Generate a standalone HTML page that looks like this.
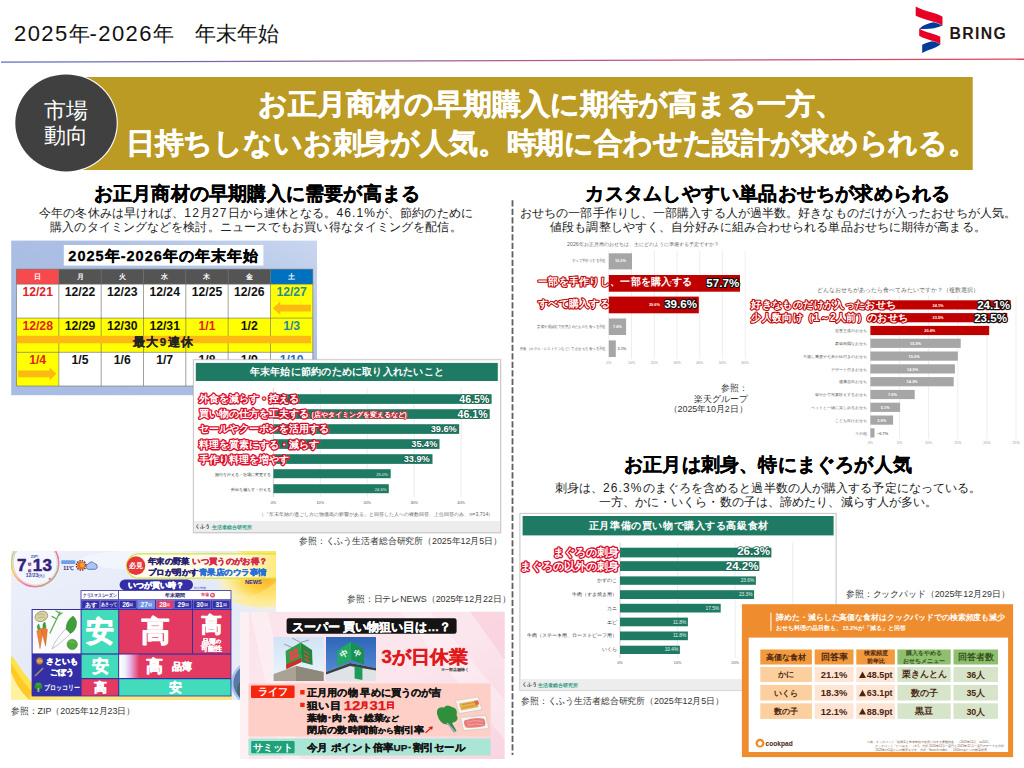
<!DOCTYPE html>
<html lang="ja">
<head>
<meta charset="utf-8">
<title>2025年-2026年 年末年始</title>
<style>
html,body{margin:0;padding:0;background:#fff;}
body{width:1024px;height:768px;overflow:hidden;position:relative;font-family:"Liberation Sans",sans-serif;color:#111;}
#page{position:absolute;left:0;top:0;width:1024px;height:768px;overflow:hidden;background:#fff;}
.t{position:absolute;white-space:nowrap;line-height:1;margin:0;padding:0;}
.n1{font-size:22px;letter-spacing:1.4px;}
.c{text-align:center;}
.r{text-align:right;}
.b{font-weight:bold;}
.h2{font-size:19.2px;letter-spacing:0.22px;font-weight:bold;color:#000;text-align:center;-webkit-text-stroke:0.3px #000;}
.sub{font-size:12px;letter-spacing:0.1px;color:#222;text-align:center;line-height:14px;}
.cap{font-size:9px;color:#333;transform:scaleX(0.985);transform-origin:0 50%;}
.cap.r{transform-origin:100% 50%;}
.d{letter-spacing:1.1px;}
svg{position:absolute;left:0;top:0;overflow:hidden;}
svg text{font-family:"Liberation Sans",sans-serif;dominant-baseline:central;}
.m{text-anchor:middle;}
.e{text-anchor:end;}
.ol{paint-order:stroke fill;stroke-linejoin:round;stroke-linecap:round;font-weight:bold;}
</style>
</head>
<body>
<div id="page">

<!-- ===== header ===== -->
<div class="t" style="left:14px;top:23px;font-size:21px;color:#111;"><span class="n1">2025</span>年<span class="n1">-2026</span>年　年末年始</div>
<svg width="1024" height="768" viewBox="0 0 1024 768">
  <defs>
    <linearGradient id="hl" x1="0" y1="0" x2="1" y2="0">
      <stop offset="0" stop-color="#5a6fc0"/>
      <stop offset="0.5" stop-color="#b05a9a"/>
      <stop offset="1" stop-color="#e8405a"/>
    </linearGradient>
  </defs>
  <path d="M1 61.4 L1024 58.4 L1024 59.8 L1 62.8 Z" fill="url(#hl)"/>
  <g id="logo">
    <path d="M915.7 6.6 C925 12 936 12.5 942.5 16.8 L942.5 25.6 C936 21 925 20.5 915.7 15.8 Z" fill="#e60027"/>
    <path d="M933.5 22.2 C937 23 940.5 24.2 942.5 25.6 C936 29 926 29.5 919.4 28.8 C922 25.5 928 23.2 933.5 22.2 Z" fill="#003a9b"/>
    <path d="M919.2 28.5 C926 33 935 33.5 940.3 36.8 L940.3 44.4 C935 40.6 926 40 919.2 35.8 Z" fill="#e60027"/>
    <path d="M932 41.3 C935.5 42 938.5 43 940.3 44.4 C935 48.5 927 50 922.2 52.9 L922.2 44.8 C925 43.4 928.5 42.2 932 41.3 Z" fill="#003a9b"/>
  </g>
</svg>
<div class="t b" style="left:949.6px;top:25.8px;font-size:15.8px;letter-spacing:1.3px;color:#231815;">BRING</div>

<!-- ===== banner ===== -->
<svg width="1024" height="768" viewBox="0 0 1024 768">
  <rect x="66" y="77" width="906.7" height="93" fill="#bc9b25"/>
  <ellipse cx="66" cy="122.9" rx="51.8" ry="49.6" fill="#fff"/>
  <ellipse cx="66" cy="122.9" rx="50.7" ry="48.5" fill="#404040"/>
</svg>
<div class="t c" style="left:16px;width:100px;top:98.8px;font-size:21.5px;line-height:25.6px;color:#fff;">市場<br>動向</div>
<div class="t c b" style="left:0;width:1102.6px;top:85.3px;font-size:29.2px;line-height:38.5px;color:#fff;-webkit-text-stroke:0.45px #fff;">お正月商材の早期購入に期待が高まる一方、<br><span style="letter-spacing:-0.17px">日持ちしないお刺身が人気。時期に合わせた設計が求められる。</span></div>

<!-- ===== section headings ===== -->
<div class="t h2" style="left:1px;width:512px;top:184px;">お正月商材の早期購入に需要が高まる</div>
<div class="t sub" style="left:0;width:512px;top:205.7px;">今年の冬休みは早ければ、<span class="d">12</span>月<span class="d">27</span>日から連休となる。<span class="d">46.1%</span>が、節約のために<br>購入のタイミングなどを検討。ニュースでもお買い得なタイミングを配信。</div>

<div class="t h2" style="left:512px;width:512px;top:184px;">カスタムしやすい単品おせちが求められる</div>
<div class="t sub" style="left:512px;width:512px;top:205.7px;">おせちの一部手作りし、一部購入する人が過半数。好きなものだけが入ったおせちが人気。<br>値段も調整しやすく、自分好みに組み合わせられる単品おせちに期待が高まる。</div>

<div class="t h2" style="left:512px;width:512px;top:455px;">お正月は刺身、特にまぐろが人気</div>
<div class="t sub" style="left:512px;width:512px;top:481px;">刺身は、<span class="d">26.3%</span>のまぐろを含めると過半数の人が購入する予定になっている。<br>一方、かに・いくら・数の子は、諦めたり、減らす人が多い。</div>

<!-- dashed divider -->
<svg width="1024" height="768" viewBox="0 0 1024 768">
  <line x1="512.5" y1="200.3" x2="512.5" y2="755" stroke="#5f5f5f" stroke-width="1.8" stroke-dasharray="6.25 2.25"/>
</svg>
<!-- ===== calendar image ===== -->
<svg width="1024" height="768" viewBox="0 0 1024 768">
<defs><linearGradient id="calbg" x1="0" y1="1" x2="1" y2="0"><stop offset="0" stop-color="#a8bbe2"/><stop offset="0.6" stop-color="#abbfe5"/><stop offset="1" stop-color="#c9d6ef"/></linearGradient></defs>
<rect x="11.2" y="240.6" width="305.8" height="154.6" fill="url(#calbg)"/>
<rect x="63.8" y="245" width="199.6" height="20.6" fill="#fff"/>
<text class="m" x="163.1" y="255.6" font-size="14.5" font-weight="bold" fill="#000" stroke="#000" stroke-width="0.3" textLength="189.6" lengthAdjust="spacing">2025年-2026年の年末年始</text>
<rect x="16.50" y="269.2" width="42.33" height="15.0" fill="#f8494c"/>
<rect x="58.83" y="269.2" width="42.33" height="15.0" fill="#545454"/>
<rect x="101.16" y="269.2" width="42.33" height="15.0" fill="#545454"/>
<rect x="143.49" y="269.2" width="42.33" height="15.0" fill="#545454"/>
<rect x="185.82" y="269.2" width="42.33" height="15.0" fill="#545454"/>
<rect x="228.15" y="269.2" width="42.33" height="15.0" fill="#545454"/>
<rect x="270.48" y="269.2" width="42.33" height="15.0" fill="#0070c0"/>
<rect x="16.50" y="284.2" width="42.33" height="33.9" fill="#ffffff"/>
<rect x="58.83" y="284.2" width="42.33" height="33.9" fill="#ffffff"/>
<rect x="101.16" y="284.2" width="42.33" height="33.9" fill="#ffffff"/>
<rect x="143.49" y="284.2" width="42.33" height="33.9" fill="#ffffff"/>
<rect x="185.82" y="284.2" width="42.33" height="33.9" fill="#ffffff"/>
<rect x="228.15" y="284.2" width="42.33" height="33.9" fill="#ffffff"/>
<rect x="270.48" y="284.2" width="42.33" height="33.9" fill="#ffff00"/>
<rect x="16.50" y="318.1" width="42.33" height="34.2" fill="#ffff00"/>
<rect x="58.83" y="318.1" width="42.33" height="34.2" fill="#ffff00"/>
<rect x="101.16" y="318.1" width="42.33" height="34.2" fill="#ffff00"/>
<rect x="143.49" y="318.1" width="42.33" height="34.2" fill="#ffff00"/>
<rect x="185.82" y="318.1" width="42.33" height="34.2" fill="#ffff00"/>
<rect x="228.15" y="318.1" width="42.33" height="34.2" fill="#ffff00"/>
<rect x="270.48" y="318.1" width="42.33" height="34.2" fill="#ffff00"/>
<rect x="16.50" y="352.3" width="42.33" height="33.7" fill="#ffff00"/>
<rect x="58.83" y="352.3" width="42.33" height="33.7" fill="#ffffff"/>
<rect x="101.16" y="352.3" width="42.33" height="33.7" fill="#ffffff"/>
<rect x="143.49" y="352.3" width="42.33" height="33.7" fill="#ffffff"/>
<rect x="185.82" y="352.3" width="42.33" height="33.7" fill="#ffffff"/>
<rect x="228.15" y="352.3" width="42.33" height="33.7" fill="#ffffff"/>
<rect x="270.48" y="352.3" width="42.33" height="33.7" fill="#ffffff"/>
<line x1="16.50" y1="269.2" x2="16.50" y2="386.0" stroke="#6e6e5a" stroke-width="0.6"/>
<line x1="58.83" y1="269.2" x2="58.83" y2="386.0" stroke="#6e6e5a" stroke-width="0.6"/>
<line x1="101.16" y1="269.2" x2="101.16" y2="386.0" stroke="#6e6e5a" stroke-width="0.6"/>
<line x1="143.49" y1="269.2" x2="143.49" y2="386.0" stroke="#6e6e5a" stroke-width="0.6"/>
<line x1="185.82" y1="269.2" x2="185.82" y2="386.0" stroke="#6e6e5a" stroke-width="0.6"/>
<line x1="228.15" y1="269.2" x2="228.15" y2="386.0" stroke="#6e6e5a" stroke-width="0.6"/>
<line x1="270.48" y1="269.2" x2="270.48" y2="386.0" stroke="#6e6e5a" stroke-width="0.6"/>
<line x1="312.81" y1="269.2" x2="312.81" y2="386.0" stroke="#6e6e5a" stroke-width="0.6"/>
<line x1="16.50" y1="269.2" x2="312.81" y2="269.2" stroke="#6e6e5a" stroke-width="0.6"/>
<line x1="16.50" y1="284.2" x2="312.81" y2="284.2" stroke="#6e6e5a" stroke-width="0.6"/>
<line x1="16.50" y1="318.1" x2="312.81" y2="318.1" stroke="#6e6e5a" stroke-width="0.6"/>
<line x1="16.50" y1="352.3" x2="312.81" y2="352.3" stroke="#6e6e5a" stroke-width="0.6"/>
<line x1="16.50" y1="386.0" x2="312.81" y2="386.0" stroke="#6e6e5a" stroke-width="0.6"/>
<text class="m" x="37.66" y="276" font-size="7" font-weight="bold" fill="#fff">日</text>
<text class="m" x="80.00" y="276" font-size="7" font-weight="bold" fill="#fff">月</text>
<text class="m" x="122.32" y="276" font-size="7" font-weight="bold" fill="#fff">火</text>
<text class="m" x="164.66" y="276" font-size="7" font-weight="bold" fill="#fff">水</text>
<text class="m" x="206.98" y="276" font-size="7" font-weight="bold" fill="#fff">木</text>
<text class="m" x="249.31" y="276" font-size="7" font-weight="bold" fill="#fff">金</text>
<text class="m" x="291.65" y="276" font-size="7" font-weight="bold" fill="#fff">土</text>
<rect x="16.8" y="335.8" width="294.2" height="7.5" fill="#fdb913"/>
<path d="M272.8 308.2 L280.3 301.6 L280.3 304.8 L310.9 304.8 L310.9 311.6 L280.3 311.6 L280.3 314.8 Z" fill="#fdb913"/>
<path d="M56.3 373.8 L49.5 367.2 L49.5 370.4 L18.2 370.4 L18.2 377.2 L49.5 377.2 L49.5 380.4 Z" fill="#fdb913"/>
<text class="m" x="37.66" y="292.3" font-size="12.2" font-weight="bold" fill="#e2211c">12/21</text>
<text class="m" x="80.00" y="292.3" font-size="12.2" font-weight="bold" fill="#111111">12/22</text>
<text class="m" x="122.32" y="292.3" font-size="12.2" font-weight="bold" fill="#111111">12/23</text>
<text class="m" x="164.66" y="292.3" font-size="12.2" font-weight="bold" fill="#111111">12/24</text>
<text class="m" x="206.98" y="292.3" font-size="12.2" font-weight="bold" fill="#111111">12/25</text>
<text class="m" x="249.31" y="292.3" font-size="12.2" font-weight="bold" fill="#111111">12/26</text>
<text class="m" x="291.65" y="292.3" font-size="12.2" font-weight="bold" fill="#2b8a99">12/27</text>
<text class="m" x="37.66" y="326.4" font-size="12.2" font-weight="bold" fill="#e2211c">12/28</text>
<text class="m" x="80.00" y="326.4" font-size="12.2" font-weight="bold" fill="#111111">12/29</text>
<text class="m" x="122.32" y="326.4" font-size="12.2" font-weight="bold" fill="#111111">12/30</text>
<text class="m" x="164.66" y="326.4" font-size="12.2" font-weight="bold" fill="#111111">12/31</text>
<text class="m" x="206.98" y="326.4" font-size="12.2" font-weight="bold" fill="#e2211c">1/1</text>
<text class="m" x="249.31" y="326.4" font-size="12.2" font-weight="bold" fill="#111111">1/2</text>
<text class="m" x="291.65" y="326.4" font-size="12.2" font-weight="bold" fill="#2b8a99">1/3</text>
<text class="m" x="37.66" y="360.2" font-size="12.2" font-weight="bold" fill="#e2211c">1/4</text>
<text class="m" x="80.00" y="360.2" font-size="12.2" font-weight="bold" fill="#111111">1/5</text>
<text class="m" x="122.32" y="360.2" font-size="12.2" font-weight="bold" fill="#111111">1/6</text>
<text class="m" x="164.66" y="360.2" font-size="12.2" font-weight="bold" fill="#111111">1/7</text>
<text class="m" x="206.98" y="360.2" font-size="12.2" font-weight="bold" fill="#111111">1/8</text>
<text class="m" x="249.31" y="360.2" font-size="12.2" font-weight="bold" fill="#111111">1/9</text>
<text class="m" x="291.65" y="360.2" font-size="12.2" font-weight="bold" fill="#1c6fc4">1/10</text>
<text class="m" x="163" y="342.3" font-size="11.5" font-weight="bold" fill="#222" stroke="#222" stroke-width="0.25" textLength="59.6" lengthAdjust="spacing">最大9連休</text>
</svg>
<!-- ===== chart: 年末年始に節約のために取り入れたいこと ===== -->
<svg width="1024" height="768" viewBox="0 0 1024 768">
<rect x="192.6" y="358.8" width="309" height="175" fill="#000" opacity="0.10"/>
<rect x="193.6" y="359.8" width="306.8" height="172.6" fill="#fff" stroke="#c4c4c4" stroke-width="0.8"/>
<rect x="194.2" y="521" width="305.6" height="11" fill="#ededed"/>
<rect x="195.8" y="362.9" width="302" height="18.1" fill="#1f7a63"/>
<text class="m" x="346.8" y="371.3" font-size="10.1" font-weight="bold" fill="#fff" textLength="194.2" lengthAdjust="spacing">年末年始に節約のために取り入れたいこと</text>
<line x1="320.3" y1="388" x2="320.3" y2="497" stroke="#e2e2e2" stroke-width="0.7"/>
<line x1="367.2" y1="388" x2="367.2" y2="497" stroke="#e2e2e2" stroke-width="0.7"/>
<line x1="414.2" y1="388" x2="414.2" y2="497" stroke="#e2e2e2" stroke-width="0.7"/>
<line x1="461.1" y1="388" x2="461.1" y2="497" stroke="#e2e2e2" stroke-width="0.7"/>
<line x1="273.4" y1="388" x2="273.4" y2="497" stroke="#bdbdbd" stroke-width="0.7"/>
<rect x="273.4" y="394.2" width="218.2" height="9.7" fill="#1f7a63"/>
<rect x="273.4" y="409.2" width="216.3" height="9.7" fill="#1f7a63"/>
<rect x="273.4" y="424.2" width="185.8" height="9.7" fill="#1f7a63"/>
<rect x="273.4" y="439.2" width="166.1" height="9.7" fill="#1f7a63"/>
<rect x="273.4" y="454.2" width="159.1" height="9.7" fill="#1f7a63"/>
<rect x="273.4" y="469.2" width="117.3" height="9.0" fill="#1f7a63"/>
<rect x="273.4" y="484.2" width="115.4" height="9.0" fill="#1f7a63"/>
<text class="m" x="273.4" y="503" font-size="3.8" fill="#555">0%</text>
<text class="m" x="320.3" y="503" font-size="3.8" fill="#555">10%</text>
<text class="m" x="367.2" y="503" font-size="3.8" fill="#555">20%</text>
<text class="m" x="414.2" y="503" font-size="3.8" fill="#555">30%</text>
<text class="m" x="461.1" y="503" font-size="3.8" fill="#555">40%</text>
<text class="e" x="270.6" y="474" font-size="4.3" fill="#333">旅行を控える・近場に変更する</text>
<text class="e" x="270.6" y="489" font-size="4.3" fill="#333">外出を減らす・控える</text>
<text class="e" x="388" y="474" font-size="4.2" fill="#e8f2ee">25.0%</text>
<text class="e" x="386.6" y="489" font-size="4.2" fill="#e8f2ee">24.6%</text>
<text class="e" x="493.4" y="514.4" font-size="5.2" fill="#666">（「年末年始の過ごし方に物価高の影響がある」と回答した人への複数回答、上位回答のみ、n=3,714）</text>
<text x="195.2" y="526.8" font-size="4.8" font-weight="bold" fill="#222">くふう <tspan fill="#2a9a82">生活者総合研究所</tspan></text>
<text class="e ol" x="489.4" y="398.6" font-size="10.6" fill="#fff" stroke="#17604d" stroke-width="1.6">46.5%</text>
<text class="e ol" x="487.6" y="413.6" font-size="10.6" fill="#fff" stroke="#17604d" stroke-width="1.6">46.1%</text>
<text class="e ol" x="456.8" y="428.8" font-size="9.2" fill="#fff" stroke="#17604d" stroke-width="1.6">39.6%</text>
<text class="e ol" x="437.4" y="443.8" font-size="9.2" fill="#fff" stroke="#17604d" stroke-width="1.6">35.4%</text>
<text class="e ol" x="429.8" y="458.6" font-size="9.2" fill="#fff" stroke="#17604d" stroke-width="1.6">33.9%</text>
<text class="ol" x="199.4" y="398.6" font-size="10.1" fill="#fff" stroke="#dc0a28" stroke-width="2.6">外食を減らす・控える</text>
<text class="ol" x="199.4" y="413.8" font-size="10.1" fill="#fff" stroke="#dc0a28" stroke-width="2.6">買い物の仕方を工夫する</text>
<text class="ol" x="199.4" y="428.9" font-size="10.1" fill="#fff" stroke="#dc0a28" stroke-width="2.6">セールやクーポンを活用する</text>
<text class="ol" x="199.4" y="444.0" font-size="10.1" fill="#fff" stroke="#dc0a28" stroke-width="2.6">料理を質素にする・減らす</text>
<text class="ol" x="199.4" y="459.0" font-size="10.1" fill="#fff" stroke="#dc0a28" stroke-width="2.6">手作り料理を増やす</text>
<text class="ol" x="311.4" y="414.6" font-size="6.6" fill="#fff" stroke="#e0182d" stroke-width="1.5">(店やタイミングを変えるなど)</text>
</svg>
<!-- ===== TV screenshot (ZIP) ===== -->
<svg x="0" y="0" width="1024" height="768" viewBox="0 0 1024 768">
<defs>
<clipPath id="zipc"><rect x="10.9" y="551" width="265.2" height="149"/></clipPath>
<linearGradient id="zipbg" x1="0" y1="0" x2="1" y2="1"><stop offset="0" stop-color="#eef1fb"/><stop offset="0.5" stop-color="#e4e9f7"/><stop offset="1" stop-color="#eaeefa"/></linearGradient>
<radialGradient id="zipsun" cx="0.5" cy="0.5" r="0.5"><stop offset="0" stop-color="#ffb12a"/><stop offset="0.45" stop-color="#ffd64a"/><stop offset="0.8" stop-color="#fff3a0" stop-opacity="0.7"/><stop offset="1" stop-color="#fff8c8" stop-opacity="0"/></radialGradient>
<linearGradient id="zipfade" x1="0" y1="0" x2="1" y2="0"><stop offset="0" stop-color="#ffffff"/><stop offset="0.3" stop-color="#eef0fb"/><stop offset="0.55" stop-color="#e6b4e6"/><stop offset="1" stop-color="#e23a62"/></linearGradient>
<linearGradient id="zippill" x1="0" y1="0" x2="1" y2="0"><stop offset="0" stop-color="#fffef4"/><stop offset="0.7" stop-color="#fffbe0"/><stop offset="0.95" stop-color="#ffe873"/></linearGradient>
<linearGradient id="ring" x1="0" y1="0" x2="1" y2="1"><stop offset="0" stop-color="#6fd0ee"/><stop offset="0.35" stop-color="#ffd23c"/><stop offset="0.65" stop-color="#f06fb4"/><stop offset="1" stop-color="#8fd36a"/></linearGradient>
</defs>
<g clip-path="url(#zipc)">
<rect x="10.9" y="551" width="265.2" height="149" fill="url(#zipbg)"/>
<ellipse cx="266" cy="578" rx="52" ry="34" fill="url(#zipsun)"/>
<path d="M236 551 Q262 556 276.1 572 L276.1 551 Z" fill="#ffe45a" opacity="0.8"/>
<path d="M230 600 Q258 598 276.1 582 L276.1 606 Q250 610 230 600 Z" fill="#ffe98a" opacity="0.55"/>
<ellipse cx="150" cy="560" rx="70" ry="10" fill="#f4f6fd" opacity="0.8"/>
<path d="M10.9 655 C22 668 30 690 60 700 L10.9 700 Z" fill="#ffe14a"/>
<path d="M10.9 663 C20 676 28 692 44 700 L10.9 700 Z" fill="#ffc928"/>
<path d="M10.9 672 C16 684 22 694 30 700 L10.9 700 Z" fill="#fff2a0"/>
<path d="M30 694 L232 694 L232 700 L30 700 Z" fill="#fde66a" opacity="0.85"/>
<circle cx="253" cy="683" r="22" fill="#a9c4ea"/><circle cx="253" cy="683" r="19.6" fill="#5a78a8"/><circle cx="249" cy="690" r="12" fill="#3f5a4a" opacity="0.6"/>
<circle cx="35.1" cy="563" r="23.6" fill="#f4f7ff" stroke="url(#ring)" stroke-width="1.7"/><circle cx="35.1" cy="563" r="22" fill="none" stroke="url(#ring)" stroke-width="0.6" opacity="0.7" transform="rotate(150 35.1 563)"/><circle cx="49.8" cy="578.8" r="1.1" fill="#f05fb6"/>
<text class="m" x="34.6" y="565.6" font-size="17" font-weight="bold" fill="#35207a" stroke="#35207a" stroke-width="0.5" letter-spacing="0.3">7<tspan fill="#ee5da0">:</tspan>13</text>
<text class="m" x="34.6" y="556.2" font-size="4" font-weight="bold" fill="#3a55b8">ZIP!</text>
<text class="m" x="35.2" y="575.8" font-size="4.9" font-weight="bold" fill="#3a45a8">12/23<tspan font-size="3.6">(火)</tspan></text>
<rect x="61.2" y="560.2" width="14.2" height="3.9" rx="0.8" fill="#6f9fe6"/>
<text class="m" x="68.6" y="568" font-size="5.2" font-weight="bold" fill="#2a2470">11℃</text>
<circle cx="81.2" cy="565.4" r="4.7" fill="none" stroke="#4a3a3a" stroke-width="1.5" stroke-dasharray="1.5 0.96"/><circle cx="81.2" cy="565.4" r="4" fill="#f26a1e"/><circle cx="82.2" cy="565" r="2.2" fill="#f9a23a"/>
<path d="M88.2 569.3 a2.7 2.7 0 0 1 0.2 -5.3 a3.5 3.5 0 0 1 6.2 -0.4 a2.9 2.9 0 0 1 0.5 5.7 Z" fill="#a8c8f4" stroke="#4a5ab0" stroke-width="0.8"/>
<rect x="126.6" y="553.8" width="160" height="24.4" rx="12.2" fill="url(#zippill)" stroke="#d7e23c" stroke-width="1.3"/>
<circle cx="136" cy="565.6" r="9.3" fill="#e63a3a"/>
<text class="m" x="136" y="565.8" font-size="7.4" font-weight="bold" fill="#fff">必見</text>
<text x="148" y="560.6" font-size="8.3" font-weight="bold" fill="#2a2470" stroke="#2a2470" stroke-width="0.3" textLength="119.5" lengthAdjust="spacingAndGlyphs">年末の野菜 <tspan fill="#d62a4f" stroke="#d62a4f">いつ買うのがお得？</tspan></text>
<text x="148" y="571.6" font-size="8.3" font-weight="bold" fill="#2a2470" stroke="#2a2470" stroke-width="0.3" textLength="118.5" lengthAdjust="spacingAndGlyphs">プロが明かす<tspan fill="#2a6fd6" stroke="#2a6fd6">青果店のウラ事情</tspan></text>
<text x="245" y="582.4" font-size="5.6" font-weight="bold" fill="#2a2a9c">NEWS</text>
<rect x="119.6" y="579.4" width="73.4" height="10.8" rx="5.4" fill="#342fa6"/>
<text class="m" x="156.3" y="585" font-size="8.2" font-weight="bold" fill="#fff" stroke="#fff" stroke-width="0.4" stroke-linejoin="round">いつが買い時？</text>
<text x="193.6" y="588" font-size="2.8" fill="#44c">卸売市場</text>
<rect x="80.6" y="590.2" width="150.8" height="20" fill="#342fa6"/>
<rect x="31.6" y="609" width="199.8" height="87.4" fill="#342fa6"/>
<rect x="81.4" y="591" width="36.8" height="8.3" fill="#fff"/>
<rect x="119" y="591" width="111.6" height="8.3" fill="#fff"/>
<text class="m" x="99.8" y="595.3" font-size="4.6" font-weight="bold" fill="#1d1b6e" textLength="34" lengthAdjust="spacingAndGlyphs">クリスマスシーズン</text>
<text class="m" x="175" y="595.3" font-size="5.4" font-weight="bold" fill="#1d1b6e">年末期間</text>
<text x="201" y="595.2" font-size="3.8" font-weight="bold" fill="#d8335a">市場</text><circle cx="212.5" cy="595.2" r="2.4" fill="#d8335a"/><text class="m" x="212.5" y="595.3" font-size="3.2" font-weight="bold" fill="#fff">休</text>
<rect x="81.9" y="600.3" width="17.4" height="8.4" fill="#342fa6" stroke="#9a9ae0" stroke-width="0.45"/>
<text class="m" x="90.6" y="604.6" font-size="6.2" font-weight="bold" fill="#fff">あす</text>
<rect x="100.7" y="600.3" width="17.3" height="8.4" fill="#342fa6" stroke="#9a9ae0" stroke-width="0.45"/>
<text class="m" x="109.3" y="604.6" font-size="4.6" font-weight="bold" fill="#fff" textLength="16.5" lengthAdjust="spacingAndGlyphs">あさって</text>
<rect x="119.4" y="600.3" width="16.9" height="8.4" fill="#342fa6" stroke="#9a9ae0" stroke-width="0.45"/>
<text class="m" x="127.8" y="604.6" font-size="6.6" font-weight="bold" fill="#fff">26<tspan font-size="3.6">日</tspan></text>
<rect x="137.7" y="600.3" width="17.1" height="8.4" fill="#6f92e4" stroke="#9a9ae0" stroke-width="0.45"/>
<text class="m" x="146.2" y="604.6" font-size="6.6" font-weight="bold" fill="#fff">27<tspan font-size="3.6">日</tspan></text>
<rect x="156.2" y="600.3" width="17.1" height="8.4" fill="#e23a62" stroke="#9a9ae0" stroke-width="0.45"/>
<text class="m" x="164.8" y="604.6" font-size="6.6" font-weight="bold" fill="#fff">28<tspan font-size="3.6">日</tspan></text>
<rect x="174.7" y="600.3" width="17.1" height="8.4" fill="#342fa6" stroke="#9a9ae0" stroke-width="0.45"/>
<text class="m" x="183.2" y="604.6" font-size="6.6" font-weight="bold" fill="#fff">29<tspan font-size="3.6">日</tspan></text>
<rect x="193.2" y="600.3" width="17.6" height="8.4" fill="#342fa6" stroke="#9a9ae0" stroke-width="0.45"/>
<text class="m" x="202.0" y="604.6" font-size="6.6" font-weight="bold" fill="#fff">30<tspan font-size="3.6">日</tspan></text>
<rect x="212.2" y="600.3" width="17.7" height="8.4" fill="#342fa6" stroke="#9a9ae0" stroke-width="0.45"/>
<text class="m" x="221.1" y="604.6" font-size="6.6" font-weight="bold" fill="#fff">31<tspan font-size="3.6">日</tspan></text>
<rect x="32.6" y="610" width="48" height="43.4" fill="#fbfbfd"/>
<rect x="81.6" y="610" width="36.6" height="43.4" fill="#42dcbc"/>
<rect x="119.2" y="610" width="72.8" height="43.4" fill="#e23a62"/>
<rect x="193" y="610" width="37.6" height="43.4" fill="#e23a62"/>
<rect x="81.6" y="654.6" width="36.6" height="23.4" fill="#42dcbc"/>
<rect x="119.2" y="654.6" width="111.4" height="23.4" fill="#e23a62"/>
<rect x="119.2" y="654.6" width="20" height="23.4" fill="url(#zipfade)"/>
<rect x="81.6" y="679.2" width="36.6" height="16.4" fill="#e23a62"/>
<rect x="119.2" y="679.2" width="111.4" height="16.4" fill="#42dcbc"/>
<text class="m" x="100" y="631" font-size="28" font-weight="bold" fill="#fff" stroke="#fff" stroke-width="1.0" stroke-linejoin="round">安</text>
<text class="m" x="155.6" y="631" font-size="29" font-weight="bold" fill="#fff" stroke="#fff" stroke-width="1.0" stroke-linejoin="round">高</text>
<text class="m" x="211.8" y="624.2" font-size="21" font-weight="bold" fill="#fff" stroke="#fff" stroke-width="0.7" stroke-linejoin="round">高</text>
<text class="m" x="211.8" y="641" font-size="6.6" font-weight="bold" fill="#fff" stroke="#fff" stroke-width="0.3" stroke-linejoin="round">品薄<tspan font-size="5.2">の</tspan></text>
<text class="m" x="211.8" y="648.6" font-size="6.6" font-weight="bold" fill="#fff" stroke="#fff" stroke-width="0.3" stroke-linejoin="round">可能性</text>
<text class="m" x="100" y="666.2" font-size="16.5" font-weight="bold" fill="#fff" stroke="#fff" stroke-width="0.6" stroke-linejoin="round">安</text>
<text class="m" x="154.8" y="666.2" font-size="16.5" font-weight="bold" fill="#fff" stroke="#fff" stroke-width="0.6" stroke-linejoin="round">高</text>
<text x="171.6" y="666.8" font-size="9.8" font-weight="bold" fill="#fff" stroke="#fff" stroke-width="0.5" stroke-linejoin="round">品薄</text>
<text class="m" x="100" y="687.6" font-size="12.6" font-weight="bold" fill="#fff" stroke="#fff" stroke-width="0.45" stroke-linejoin="round">高</text>
<text class="m" x="175" y="687.6" font-size="12.6" font-weight="bold" fill="#fff" stroke="#fff" stroke-width="0.45" stroke-linejoin="round">安</text>
<text x="45.6" y="661.2" font-size="8" font-weight="bold" fill="#fff" stroke="#fff" stroke-width="0.4" stroke-linejoin="round">さといも</text>
<text x="50.4" y="672.2" font-size="8" font-weight="bold" fill="#fff" stroke="#fff" stroke-width="0.4" stroke-linejoin="round">ごぼう</text>
<text x="43.6" y="687.6" font-size="6.9" font-weight="bold" fill="#fff" textLength="36" lengthAdjust="spacingAndGlyphs">ブロッコリー</text>
<ellipse cx="39.6" cy="661" rx="3.3" ry="3.6" fill="#c98f4a" stroke="#7a4c1a" stroke-width="0.5"/><line x1="36.6" y1="661" x2="42.6" y2="661" stroke="#f0d9a8" stroke-width="0.8"/>
<path d="M35.4 675.6 L42.8 668.4" stroke="#8a7a5e" stroke-width="1.8" stroke-linecap="round"/><path d="M35.4 675.6 L42.8 668.4" stroke="#cfc3a4" stroke-width="0.6" stroke-dasharray="1 1"/>
<circle cx="38.4" cy="685.6" r="3.2" fill="#3da23a"/><circle cx="36.2" cy="686.8" r="1.9" fill="#2f8f30"/><circle cx="40.6" cy="686.8" r="1.9" fill="#2f8f30"/><rect x="37.4" y="688" width="2" height="4" fill="#7cc85a"/>
<ellipse cx="41.4" cy="616.4" rx="6.6" ry="5" fill="#d8d3a0" stroke="#6f6b4a" stroke-width="0.5" transform="rotate(-22 41.4 616.4)"/><path d="M37 615 q4 -2 8 0 M38 618 q4 -2 7 0" fill="none" stroke="#8c875a" stroke-width="0.4"/>
<path d="M40 648.6 L36.8 631 Q40 628 43 631 Z" fill="#f0853a" stroke="#b0501a" stroke-width="0.4"/><path d="M45.6 646 L41 629 Q44.4 626 47.4 629.6 Z" fill="#ee7a2e" stroke="#b0501a" stroke-width="0.4"/>
<path d="M38 630 q-2 -5 1 -6 q0 3 2 5 M43 628 q-1 -5 2 -6 q1 3 1 6" fill="#3da23a" stroke="#2a7a2a" stroke-width="0.3"/>
<path d="M50 633 L60 612 M58 616 l4 -3 M56.6 619 l-4.6 -2.6 M59.6 613 l-3.6 -2" stroke="#5ab24a" stroke-width="1.3" fill="none" stroke-linecap="round"/>
<path d="M52 648.8 Q55 640 66 628.6 Q70 630 70.4 633.4 Q60 644 52 648.8 Z" fill="#fdfdfd" stroke="#8a8aa0" stroke-width="0.5"/>
<path d="M66 629 Q66 621 73 616 Q78 620 76 627 Q74 632 70.4 633.4 Z" fill="#3f9e3a" stroke="#2a6f2a" stroke-width="0.4"/>
<circle cx="72.2" cy="644.4" r="5.2" fill="#4ea83a" stroke="#2a6f2a" stroke-width="0.4"/><path d="M69 642 q3 -2 6 1" fill="none" stroke="#8fd46a" stroke-width="0.6"/>
</g></svg>
<!-- ===== TV screenshot (日テレNEWS) ===== -->
<svg width="1024" height="768" viewBox="0 0 1024 768">
<defs>
<clipPath id="pkc"><rect x="240" y="611.6" width="264.8" height="147.4"/></clipPath>
<linearGradient id="pkbg" x1="0" y1="0" x2="1" y2="1"><stop offset="0" stop-color="#fbe3ea"/><stop offset="0.5" stop-color="#fce6ed"/><stop offset="1" stop-color="#f9d5e1"/></linearGradient>
<linearGradient id="sky1" x1="0" y1="0" x2="0" y2="1"><stop offset="0" stop-color="#cfe4f6"/><stop offset="1" stop-color="#eef5fb"/></linearGradient>
<linearGradient id="sky2" x1="0" y1="0" x2="0" y2="1"><stop offset="0" stop-color="#2e66b8"/><stop offset="1" stop-color="#5d93d8"/></linearGradient>
</defs>
<g clip-path="url(#pkc)">
<rect x="240" y="611.6" width="264.8" height="147.4" fill="url(#pkbg)"/>
<path d="M250 611.6 L268 611.6 L300 759 L282 759 Z" fill="#fff" opacity="0.35"/>
<path d="M400 611.6 L430 611.6 L504.8 700 L504.8 740 Z" fill="#fff" opacity="0.3"/>
<path d="M240 611.6 L249 611.6 L249 759 L240 759 Z" fill="#fff" opacity="0.45"/>
<path d="M470 611.6 L504.8 611.6 L504.8 660 Z" fill="#f7c6d6" opacity="0.5"/>
<rect x="286.6" y="618.2" width="170" height="15.6" rx="2.2" fill="#141414"/>
<text class="m" x="371.6" y="626.2" font-size="11.6" font-weight="bold" fill="#fff" stroke="#fff" stroke-width="0.3">スーパー 買い物狙い目は…？</text>
<rect x="273.6" y="637" width="50" height="44" fill="url(#sky1)"/>
<path d="M273.6 681 L273.6 674 L296 666 L323.6 672 L323.6 681 Z" fill="#a9a396"/>
<path d="M296 666 L323.6 672 L323.6 681 L296 681 Z" fill="#8f897c"/>
<path d="M285.6 651 L300.6 642.4 L301.4 662 L286.4 669 Z" fill="#2f9e4c"/>
<path d="M300.6 642.4 L312 650 L312.6 665 L301.4 662 Z" fill="#25863e"/>
<path d="M286.2 664.6 L301.4 658 L301.4 662 L286.4 669 Z" fill="#d8282a"/>
<circle cx="291.6" cy="653.4" r="2.4" fill="#e8474a"/><circle cx="296" cy="651" r="2.4" fill="#e8474a"/><circle cx="291.9" cy="658" r="2.4" fill="#e8474a"/><circle cx="296.3" cy="655.8" r="2.4" fill="#e8474a"/>
<path d="M304 651 l5 3 M304 655 l5 3 M304.4 659 l5 2.6" stroke="#e8474a" stroke-width="1.3"/>
<path d="M284 644 L293 648 M300.6 642.4 L292 638 M300.6 642.4 L309 640" stroke="#555" stroke-width="0.5"/>
<rect x="326" y="637" width="50" height="44" fill="url(#sky2)"/>
<path d="M326 681 L326 672 L350 663 L376 668 L376 681 Z" fill="#dfe3e6"/>
<path d="M326 672 L350 663 L376 668 L376 670.6 L350 666 L326 674.6 Z" fill="#3a3f46"/>
<path d="M337.6 650.6 L351 641.6 L351.4 660 L337 666.6 Z" fill="#22a862"/>
<path d="M351 641.6 L364 649 L364 664.6 L351.4 660 Z" fill="#179053"/>
<path d="M354.6 666 L362.4 668 L362.4 680 L354.6 678.6 Z" fill="#1c9a58"/>
<text class="m" x="344.4" y="654" font-size="8" font-weight="bold" fill="#fff" transform="rotate(-30 344.4 654)">中</text>
<text class="m" x="357.6" y="653" font-size="7.4" font-weight="bold" fill="#fff" transform="rotate(26 357.6 653)">中</text>
<text x="381.4" y="656.6" font-size="17.6" font-weight="bold" fill="#e01a1a" stroke="#e01a1a" stroke-width="0.4" textLength="86.6" lengthAdjust="spacingAndGlyphs">3が日休業</text>
<text class="e" x="468.6" y="670" font-size="3.6" font-weight="bold" fill="#222">※一部店舗除く</text>
<rect x="248.4" y="683.4" width="242.2" height="53" rx="1" fill="#fdcfc6"/>
<rect x="251" y="685.4" width="43.6" height="12.6" rx="1.2" fill="#f5260d"/>
<text class="m" x="272.8" y="691.9" font-size="10.4" font-weight="bold" fill="#fff">ライフ</text>
<rect x="300.2" y="690" width="4.4" height="4.4" rx="0.5" fill="#f5260d"/><rect x="300.2" y="702.7" width="4.4" height="4.4" rx="0.5" fill="#f5260d"/>
<text x="307" y="692.4" font-size="9.6" font-weight="bold" fill="#151515" stroke="#151515" stroke-width="0.25" textLength="134.6" lengthAdjust="spacingAndGlyphs">正月用の物 早めに買うのが吉</text>
<text x="307" y="705" font-size="9.6" font-weight="bold" fill="#151515" stroke="#151515" stroke-width="0.25" textLength="88" lengthAdjust="spacingAndGlyphs">狙い目 <tspan fill="#e01a1a" stroke="#e01a1a" font-size="13.2">12<tspan font-size="8">月</tspan>31<tspan font-size="8">日</tspan></tspan></text>
<text x="307" y="717.9" font-size="9.2" font-weight="bold" fill="#151515" stroke="#151515" stroke-width="0.25" textLength="92" lengthAdjust="spacingAndGlyphs">葉物･肉･魚･総菜<tspan font-size="7.4">など</tspan></text>
<text x="307" y="729.8" font-size="9.2" font-weight="bold" fill="#151515" stroke="#151515" stroke-width="0.25" textLength="127.4" lengthAdjust="spacingAndGlyphs">閉店の数時間前<tspan font-size="7.4">から</tspan>割引率<tspan fill="#e01a1a" stroke="#e01a1a">↗</tspan></text>
<path d="M455.6 700.6 L478 696.8 L482 709.6 L459 713.6 Z" fill="#f6f6f2" stroke="#bdbdb5" stroke-width="0.5"/>
<path d="M459 703.6 L476.4 700.6 L478.6 707 L461 710.4 Z" fill="#e7b050"/><path d="M462 704.6 L475 702.4 M462.6 707.8 L476.4 705.2" stroke="#c78a2a" stroke-width="0.7"/><path d="M474 701 l4 -0.8 l1.2 4 l-3 1" fill="#e8614a"/>
<path d="M460.6 717.6 L485.6 715.4 L488.8 728.4 L463.6 730.6 Z" fill="#f6f6f2" stroke="#bdbdb5" stroke-width="0.5"/>
<path d="M464.4 720.6 Q474 716.6 484 718.8 Q486.4 723 484.6 726 Q474 728.6 466 727.4 Q463 724 464.4 720.6 Z" fill="#ea7c7c"/><path d="M467 722.4 q8 -3 16 -1 M467.6 725.2 q8 -2 15.6 -0.6" stroke="#f5b5b0" stroke-width="0.7" fill="none"/>
<path d="M437 714 Q436 706 444 707.4 Q447 703.6 452 707 Q458 708 456.6 715 Q460 721 452 723 L456.6 731 L454 732.6 L448 724.6 Q440 725 437 714 Z" fill="#2f8f3a"/><path d="M447 723 L455.2 732" stroke="#b7a6d8" stroke-width="1.4"/>
<rect x="248.4" y="738.6" width="242.2" height="17" rx="1" fill="#a9e6d6"/>
<rect x="251.2" y="740.9" width="43.4" height="12.4" rx="1.2" fill="#1fa27a"/>
<text class="m" x="273" y="747.3" font-size="9.8" font-weight="bold" fill="#fff">サミット</text>
<text x="307" y="747.3" font-size="9.6" font-weight="bold" fill="#151515" stroke="#151515" stroke-width="0.25" textLength="158" lengthAdjust="spacingAndGlyphs">今月 ポイント倍率UP･割引セール</text>
</g></svg>
<!-- ===== chart: おせち準備 (楽天) ===== -->
<svg width="1024" height="768" viewBox="0 0 1024 768">
<text x="567" y="243.6" font-size="5.3" fill="#666">2026年お正月用のおせちは、主にどのように準備する予定ですか？</text>
<line x1="608.8" y1="250.6" x2="608.8" y2="359" stroke="#e6e6e6" stroke-width="0.7"/>
<text class="m" x="608.8" y="363" font-size="3.6" fill="#999">0%</text>
<line x1="631.5" y1="250.6" x2="631.5" y2="359" stroke="#e6e6e6" stroke-width="0.7"/>
<text class="m" x="631.5" y="363" font-size="3.6" fill="#999">10%</text>
<line x1="654.3" y1="250.6" x2="654.3" y2="359" stroke="#e6e6e6" stroke-width="0.7"/>
<text class="m" x="654.3" y="363" font-size="3.6" fill="#999">20%</text>
<line x1="677.0" y1="250.6" x2="677.0" y2="359" stroke="#e6e6e6" stroke-width="0.7"/>
<text class="m" x="677.0" y="363" font-size="3.6" fill="#999">30%</text>
<line x1="699.7" y1="250.6" x2="699.7" y2="359" stroke="#e6e6e6" stroke-width="0.7"/>
<text class="m" x="699.7" y="363" font-size="3.6" fill="#999">40%</text>
<line x1="722.4" y1="250.6" x2="722.4" y2="359" stroke="#e6e6e6" stroke-width="0.7"/>
<text class="m" x="722.4" y="363" font-size="3.6" fill="#999">50%</text>
<line x1="745.2" y1="250.6" x2="745.2" y2="359" stroke="#e6e6e6" stroke-width="0.7"/>
<text class="m" x="745.2" y="363" font-size="3.6" fill="#999">60%</text>
<rect x="608.8" y="253.3" width="23.2" height="16.1" fill="#a6a6a6"/>
<rect x="608.8" y="275.0" width="131.2" height="16.7" fill="#c00000"/>
<rect x="608.8" y="296.6" width="90.0" height="16.7" fill="#c00000"/>
<rect x="608.8" y="318.5" width="17.3" height="16.5" fill="#a6a6a6"/>
<rect x="608.8" y="340.4" width="7.0" height="16.6" fill="#a6a6a6"/>
<text class="e" x="605.8" y="261.4" font-size="3.6" fill="#666" textLength="34" lengthAdjust="spacingAndGlyphs">すべて手作りする予定</text>
<text class="e" x="605.8" y="326.8" font-size="3.6" fill="#666" textLength="68.5" lengthAdjust="spacingAndGlyphs">実家や親戚宅で用意されたものを食べる予定</text>
<text class="e" x="605.8" y="348.8" font-size="3.6" fill="#666" textLength="85.8" lengthAdjust="spacingAndGlyphs">外食（ホテル・レストランなど）でおせちを食べる予定</text>
<text class="m" x="620.4" y="261.4" font-size="3.8" font-weight="bold" fill="#fff">10.2%</text>
<text class="m" x="617.4" y="326.8" font-size="3.8" font-weight="bold" fill="#fff">7.6%</text>
<text x="617.6" y="348.8" font-size="3.8" font-weight="bold" fill="#777">3.1%</text>
<text class="m" x="654.4" y="305" font-size="3.8" font-weight="bold" fill="#fff">39.6%</text>
<text class="m" x="673" y="283.4" font-size="3.8" font-weight="bold" fill="#f5d0d0">57.7%</text>
<text class="ol" x="538" y="281.8" font-size="10.3" fill="#fff" stroke="#c00000" stroke-width="2.2" textLength="154" lengthAdjust="spacing">一部を手作りし、一部を購入する</text>
<text class="ol" x="538" y="303.7" font-size="10.3" fill="#fff" stroke="#c00000" stroke-width="2.2" textLength="71.6" lengthAdjust="spacing">すべて購入する</text>
<text class="e ol" x="739.2" y="282.2" font-size="11.6" fill="#fff" stroke="#111" stroke-width="2.4">57.7%</text>
<text class="e ol" x="697" y="303.6" font-size="11.6" fill="#fff" stroke="#111" stroke-width="2.4">39.6%</text>
</svg>
<!-- ===== chart: どんなおせち (楽天) ===== -->
<svg width="1024" height="768" viewBox="0 0 1024 768">
<text x="817.2" y="290.4" font-size="5.75" fill="#666">どんなおせちがあったら食べてみたいですか？（複数選択）</text>
<line x1="870.4" y1="296" x2="870.4" y2="439" stroke="#e6e6e6" stroke-width="0.7"/>
<text class="m" x="870.4" y="442.8" font-size="3.6" fill="#999">0%</text>
<line x1="899.5" y1="296" x2="899.5" y2="439" stroke="#e6e6e6" stroke-width="0.7"/>
<text class="m" x="899.5" y="442.8" font-size="3.6" fill="#999">5%</text>
<line x1="928.6" y1="296" x2="928.6" y2="439" stroke="#e6e6e6" stroke-width="0.7"/>
<text class="m" x="928.6" y="442.8" font-size="3.6" fill="#999">10%</text>
<line x1="957.8" y1="296" x2="957.8" y2="439" stroke="#e6e6e6" stroke-width="0.7"/>
<text class="m" x="957.8" y="442.8" font-size="3.6" fill="#999">15%</text>
<line x1="986.9" y1="296" x2="986.9" y2="439" stroke="#e6e6e6" stroke-width="0.7"/>
<text class="m" x="986.9" y="442.8" font-size="3.6" fill="#999">20%</text>
<line x1="1016.0" y1="296" x2="1016.0" y2="439" stroke="#e6e6e6" stroke-width="0.7"/>
<text class="m" x="1016.0" y="442.8" font-size="3.6" fill="#999">25%</text>
<rect x="870.4" y="300.3" width="140.4" height="9.2" fill="#c00000"/>
<text class="m" x="938.0" y="305.0" font-size="3.9" font-weight="bold" fill="#fff">24.1%</text>
<rect x="870.4" y="313.1" width="136.9" height="9.2" fill="#c00000"/>
<text class="m" x="938.0" y="317.8" font-size="3.9" font-weight="bold" fill="#fff">23.5%</text>
<rect x="870.4" y="325.9" width="118.8" height="9.2" fill="#c00000"/>
<text class="e" x="867" y="330.6" font-size="4" fill="#666">定番王道のおせち</text>
<text class="m" x="929.8" y="330.6" font-size="3.9" font-weight="bold" fill="#fff">20.4%</text>
<rect x="870.4" y="338.7" width="90.3" height="9.2" fill="#a6a6a6"/>
<text class="e" x="867" y="343.4" font-size="4" fill="#666">豪華絢爛なおせち</text>
<text class="m" x="915.5" y="343.4" font-size="3.9" font-weight="bold" fill="#fff">15.5%</text>
<rect x="870.4" y="351.5" width="87.4" height="9.2" fill="#a6a6a6"/>
<text class="e" x="867" y="356.2" font-size="4" fill="#666">年越し蕎麦や七草がゆ付きのおせち</text>
<text class="m" x="914.1" y="356.2" font-size="3.9" font-weight="bold" fill="#fff">15.0%</text>
<rect x="870.4" y="364.3" width="84.5" height="9.2" fill="#a6a6a6"/>
<text class="e" x="867" y="369.0" font-size="4" fill="#666">デザート付きおせち</text>
<text class="m" x="912.6" y="369.0" font-size="3.9" font-weight="bold" fill="#fff">14.5%</text>
<rect x="870.4" y="377.1" width="83.3" height="9.2" fill="#a6a6a6"/>
<text class="e" x="867" y="381.8" font-size="4" fill="#666">健康志向おせち</text>
<text class="m" x="912.0" y="381.8" font-size="3.9" font-weight="bold" fill="#fff">14.3%</text>
<rect x="870.4" y="389.9" width="44.3" height="9.2" fill="#a6a6a6"/>
<text class="e" x="867" y="394.6" font-size="4" fill="#666">華やかで写真映えするおせち</text>
<text class="m" x="892.5" y="394.6" font-size="3.9" font-weight="bold" fill="#fff">7.6%</text>
<rect x="870.4" y="402.7" width="29.7" height="9.2" fill="#a6a6a6"/>
<text class="e" x="867" y="407.4" font-size="4" fill="#666">ペットと一緒に楽しめるおせち</text>
<text class="m" x="885.3" y="407.4" font-size="3.9" font-weight="bold" fill="#fff">5.1%</text>
<rect x="870.4" y="415.5" width="22.7" height="9.2" fill="#a6a6a6"/>
<text class="e" x="867" y="420.2" font-size="4" fill="#666">こども向けおせち</text>
<text class="m" x="881.8" y="420.2" font-size="3.9" font-weight="bold" fill="#fff">3.9%</text>
<rect x="870.4" y="428.3" width="4.1" height="9.2" fill="#a6a6a6"/>
<text class="e" x="867" y="433.0" font-size="4" fill="#666">その他</text>
<text x="877" y="433.0" font-size="3.9" font-weight="bold" fill="#777">~0.7%</text>
<text class="ol" x="751.2" y="304.8" font-size="10.36" fill="#fff" stroke="#c00000" stroke-width="2.2" textLength="145" lengthAdjust="spacing">好きなものだけが入ったおせち</text>
<text class="ol" x="751.2" y="317.8" font-size="10.36" fill="#fff" stroke="#c00000" stroke-width="2.2" textLength="157" lengthAdjust="spacing">少人数向け（1～2人前）のおせち</text>
<text class="e ol" x="1010" y="304.8" font-size="11.6" fill="#fff" stroke="#111" stroke-width="2.4">24.1%</text>
<text class="e ol" x="1007" y="317.6" font-size="11.6" fill="#fff" stroke="#111" stroke-width="2.4">23.5%</text>
</svg>
<!-- ===== chart: 正月準備の買い物で購入する高級食材 ===== -->
<svg width="1024" height="768" viewBox="0 0 1024 768">
<rect x="519" y="512.6" width="318" height="178.6" fill="#000" opacity="0.08"/>
<rect x="520" y="513.5" width="316" height="176.6" fill="#fff" stroke="#c4c4c4" stroke-width="0.8"/>
<rect x="520.6" y="678.9" width="314.8" height="10.8" fill="#ededed"/>
<rect x="522.6" y="516" width="311" height="19.4" fill="#1f7a63"/>
<text class="m" x="678.5" y="525.8" font-size="10.4" font-weight="bold" fill="#fff" textLength="179.5" lengthAdjust="spacing">正月準備の買い物で購入する高級食材</text>
<line x1="677.6" y1="543" x2="677.6" y2="658" stroke="#e2e2e2" stroke-width="0.7"/>
<line x1="735.1" y1="543" x2="735.1" y2="658" stroke="#e2e2e2" stroke-width="0.7"/>
<line x1="792.7" y1="543" x2="792.7" y2="658" stroke="#e2e2e2" stroke-width="0.7"/>
<line x1="620.0" y1="543" x2="620.0" y2="658" stroke="#bdbdbd" stroke-width="0.7"/>
<rect x="620.0" y="547.7" width="151.4" height="9.7" fill="#1f7a63"/>
<rect x="620.0" y="561.2" width="139.3" height="9.8" fill="#1f7a63"/>
<rect x="620.0" y="576.4" width="135.9" height="8.4" fill="#1f7a63"/>
<text class="e" x="617" y="580.6" font-size="4.6" fill="#333">かずのこ</text>
<text class="e" x="754.3" y="580.6" font-size="4.8" fill="#e8f2ee">23.6%</text>
<rect x="620.0" y="590.2" width="134.1" height="8.8" fill="#1f7a63"/>
<text class="e" x="617" y="594.6" font-size="4.6" fill="#333">牛肉（すき焼き用）</text>
<text class="e" x="752.5" y="594.6" font-size="4.8" fill="#e8f2ee">23.3%</text>
<rect x="620.0" y="603.8" width="100.7" height="8.7" fill="#1f7a63"/>
<text class="e" x="617" y="608.1" font-size="4.6" fill="#333">カニ</text>
<text class="e" x="719.1" y="608.1" font-size="4.8" fill="#e8f2ee">17.5%</text>
<rect x="620.0" y="617.6" width="67.9" height="8.7" fill="#1f7a63"/>
<text class="e" x="617" y="622.0" font-size="4.6" fill="#333">エビ</text>
<text class="e" x="686.3" y="622.0" font-size="4.8" fill="#e8f2ee">11.8%</text>
<rect x="620.0" y="631.5" width="67.9" height="8.7" fill="#1f7a63"/>
<text class="e" x="617" y="635.9" font-size="4.6" fill="#333">牛肉（ステーキ用、ローストビーフ用）</text>
<text class="e" x="686.3" y="635.9" font-size="4.8" fill="#e8f2ee">11.8%</text>
<rect x="620.0" y="645.7" width="59.9" height="8.3" fill="#1f7a63"/>
<text class="e" x="617" y="649.9" font-size="4.6" fill="#333">いくら</text>
<text class="e" x="678.3" y="649.9" font-size="4.8" fill="#e8f2ee">10.4%</text>
<text class="m" x="620.0" y="662.8" font-size="3.8" fill="#555">0%</text>
<text class="m" x="677.6" y="662.8" font-size="3.8" fill="#555">10%</text>
<text class="m" x="735.1" y="662.8" font-size="3.8" fill="#555">20%</text>
<text class="m" x="792.7" y="662.8" font-size="3.8" fill="#555">30%</text>
<text x="522" y="684.6" font-size="4.8" font-weight="bold" fill="#222">くふう <tspan fill="#2a9a82">生活者総合研究所</tspan></text>
<text class="e ol" x="770" y="550.4" font-size="11.6" fill="#fff" stroke="#17604d" stroke-width="1.6">26.3%</text>
<text class="e ol" x="758.6" y="565.6" font-size="11.6" fill="#fff" stroke="#17604d" stroke-width="1.6">24.2%</text>
<text class="e ol" x="618.6" y="551.8" font-size="10.8" fill="#fff" stroke="#dc0a28" stroke-width="2.6">まぐろの刺身</text>
<text class="e ol" x="618.6" y="566.2" font-size="10.8" fill="#fff" stroke="#dc0a28" stroke-width="2.6">まぐろの以外の刺身</text>
</svg>
<!-- ===== cookpad table ===== -->
<svg width="1024" height="768" viewBox="0 0 1024 768">
<rect x="741.9" y="604.2" width="271.2" height="152.9" fill="#ee8c2e"/>
<rect x="748.7" y="637.6" width="259.4" height="114.4" fill="#fff"/>
<rect x="770.4" y="612.7" width="1.1" height="18.4" fill="#fff" opacity="0.9"/>
<text x="776.4" y="617.8" font-size="8.17" font-weight="bold" fill="#fff" textLength="228.6" lengthAdjust="spacingAndGlyphs">諦めた・減らした高価な食材はクックパッドでの検索頻度も減少</text>
<text x="776.4" y="627.5" font-size="5.5" font-weight="bold" fill="#fff">おせち料理の品目数も、15.2%が「減る」と回答</text>
<rect x="760.3" y="649.5" width="51.6" height="15" fill="#f39a3c"/>
<rect x="760.3" y="667.0" width="51.6" height="15.0" fill="#fccf9f"/>
<rect x="760.3" y="684.9" width="51.6" height="15.6" fill="#fccf9f"/>
<rect x="760.3" y="703.3" width="51.6" height="15.6" fill="#fccf9f"/>
<rect x="814.7" y="649.5" width="38.8" height="15" fill="#f39a3c"/>
<rect x="814.7" y="667.0" width="38.8" height="15.0" fill="#fde4d3"/>
<rect x="814.7" y="684.9" width="38.8" height="15.6" fill="#fde4d3"/>
<rect x="814.7" y="703.3" width="38.8" height="15.6" fill="#fde4d3"/>
<rect x="856.3" y="649.5" width="38.6" height="15" fill="#f39a3c"/>
<rect x="856.3" y="667.0" width="38.6" height="15.0" fill="#fde4d3"/>
<rect x="856.3" y="684.9" width="38.6" height="15.6" fill="#fde4d3"/>
<rect x="856.3" y="703.3" width="38.6" height="15.6" fill="#fde4d3"/>
<rect x="897.4" y="649.5" width="53.3" height="15" fill="#8fc06e"/>
<rect x="897.4" y="667.0" width="53.3" height="15.0" fill="#d6e4c9"/>
<rect x="897.4" y="684.9" width="53.3" height="15.6" fill="#d6e4c9"/>
<rect x="897.4" y="703.3" width="53.3" height="15.6" fill="#d6e4c9"/>
<rect x="953.5" y="649.5" width="44.5" height="15" fill="#8fc06e"/>
<rect x="953.5" y="667.0" width="44.5" height="15.0" fill="#d6e4c9"/>
<rect x="953.5" y="684.9" width="44.5" height="15.6" fill="#d6e4c9"/>
<rect x="953.5" y="703.3" width="44.5" height="15.6" fill="#d6e4c9"/>
<text class="m" x="786.1" y="657.4" font-size="7.65" font-weight="bold" fill="#4a2612">高価な食材</text>
<text class="m" x="834.1" y="657.4" font-size="8.5" font-weight="bold" fill="#4a2612">回答率</text>
<text class="m" x="875.6" y="653.4" font-size="5.8" font-weight="bold" fill="#4a2612">検索頻度</text>
<text class="m" x="875.6" y="660.6" font-size="5.5" font-weight="bold" fill="#4a2612">前年比</text>
<text class="m" x="924.0" y="653.4" font-size="6.05" font-weight="bold" fill="#34521e">購入をやめる</text>
<text class="m" x="924.0" y="660.6" font-size="6.05" font-weight="bold" fill="#34521e">おせちメニュー</text>
<text class="m" x="975.8" y="657.4" font-size="8.6" font-weight="bold" fill="#34521e">回答者数</text>
<text class="m" x="786.1" y="674.9" font-size="8" font-weight="bold" fill="#4a2612">かに</text>
<text class="m" x="834.1" y="674.9" font-size="9" font-weight="bold" fill="#4a2612" textLength="26.6" lengthAdjust="spacingAndGlyphs">21.1%</text>
<path d="M859 678.0 L866 678.0 L862.5 671.6 Z" fill="#4a2612"/><text x="866.8" y="674.9" font-size="8.6" font-weight="bold" fill="#4a2612" textLength="25.8" lengthAdjust="spacingAndGlyphs">48.5pt</text>
<text class="m" x="924.0" y="674.3" font-size="8.6" font-weight="bold" fill="#4a2612">栗きんとん</text>
<text class="m" x="975.8" y="674.9" font-size="8.8" font-weight="bold" fill="#4a2612">36人</text>
<text class="m" x="786.1" y="693.1" font-size="8" font-weight="bold" fill="#4a2612">いくら</text>
<text class="m" x="834.1" y="693.1" font-size="9" font-weight="bold" fill="#4a2612" textLength="26.6" lengthAdjust="spacingAndGlyphs">18.3%</text>
<path d="M859 696.2 L866 696.2 L862.5 689.8 Z" fill="#4a2612"/><text x="866.8" y="693.1" font-size="8.6" font-weight="bold" fill="#4a2612" textLength="25.8" lengthAdjust="spacingAndGlyphs">63.1pt</text>
<text class="m" x="924.0" y="692.5" font-size="8.6" font-weight="bold" fill="#4a2612">数の子</text>
<text class="m" x="975.8" y="693.1" font-size="8.8" font-weight="bold" fill="#4a2612">35人</text>
<text class="m" x="786.1" y="711.5" font-size="8" font-weight="bold" fill="#4a2612">数の子</text>
<text class="m" x="834.1" y="711.5" font-size="9" font-weight="bold" fill="#4a2612" textLength="26.6" lengthAdjust="spacingAndGlyphs">12.1%</text>
<path d="M859 714.6 L866 714.6 L862.5 708.2 Z" fill="#4a2612"/><text x="866.8" y="711.5" font-size="8.6" font-weight="bold" fill="#4a2612" textLength="25.8" lengthAdjust="spacingAndGlyphs">88.9pt</text>
<text class="m" x="924.0" y="710.9" font-size="8.6" font-weight="bold" fill="#4a2612">黒豆</text>
<text class="m" x="975.8" y="711.5" font-size="8.8" font-weight="bold" fill="#4a2612">30人</text>
<circle cx="760" cy="743.2" r="4.4" fill="#f08a24"/>
<path d="M758.4 744 a1.15 1.15 0 0 1 0.3 -2.2 a1.4 1.4 0 0 1 2.6 0 a1.15 1.15 0 0 1 0.3 2.2 v1.5 h-3.2 z" fill="#fff"/>
<text x="765.6" y="743.3" font-size="6.6" font-weight="bold" fill="#4a2612">cookpad</text>
<text class="e" x="991" y="741.5" font-size="3.1" fill="#7a5a44">出典：クックパッド「物価高と年末年始の食费に関する実態調査」（2025年11月、n=541）</text>
<text class="e" x="1003.6" y="745.7" font-size="3.1" fill="#7a5a44">クックパッド「たべみる」（※1）分析 2024年12月一週目と2025年12月一週目のデータを分析</text>
<text class="e" x="987" y="749.9" font-size="3.1" fill="#7a5a44">2025年の5週からの概算を示す。分析「Search index」：1000回あたりの検索頻度</text>
</svg>

<!-- ===== source captions ===== -->
<div class="t cap" style="left:299px;top:537px;">参照：くふう生活者総合研究所（2025年12月5日）</div>
<div class="t cap" style="left:11px;top:706.5px;">参照：ZIP（2025年12月23日）</div>
<div class="t cap" style="left:346.5px;top:594.5px;">参照：日テレNEWS（2025年12月22日）</div>
<div class="t cap r" style="left:640px;width:107.5px;top:383px;line-height:10.6px;">参照：<br>楽天グループ<br>（2025年10月2日）</div>
<div class="t cap" style="left:521px;top:696.5px;">参照：くふう生活者総合研究所（2025年12月5日）</div>
<div class="t cap" style="left:846px;top:589.5px;">参照：クックパッド（2025年12月29日）</div>

</div>
</body>
</html>
